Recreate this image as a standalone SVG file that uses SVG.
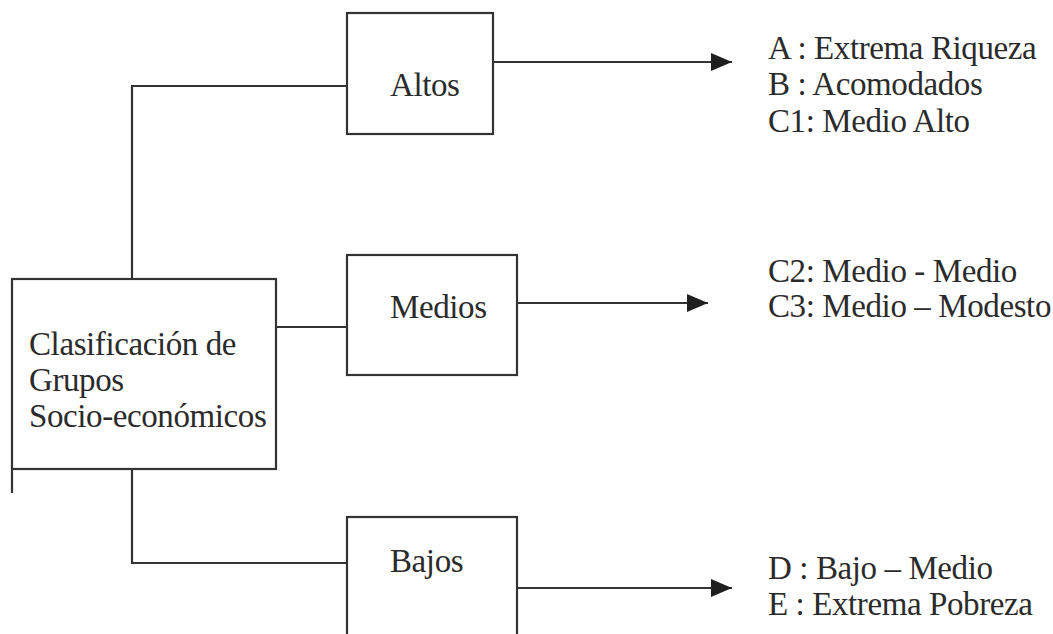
<svg xmlns="http://www.w3.org/2000/svg" width="1053" height="634" viewBox="0 0 1053 634">
  <style>
    .box { fill: #ffffff; stroke: #333333; stroke-width: 2.2; }
    .wire { fill: none; stroke: #333333; stroke-width: 2.2; }
    .lbl { font-family: "Liberation Serif", "Times New Roman", serif; font-size: 33px; letter-spacing: -0.4px; fill: #2b2b2b; }
  </style>
  <defs>
    <marker id="arrow" markerUnits="userSpaceOnUse" markerWidth="24" markerHeight="20" refX="21" refY="9" orient="auto">
      <path d="M0,0 L21,9 L0,18 z" fill="#1f1f1f"/>
    </marker>
  </defs>
  <rect width="1053" height="634" fill="#ffffff"/>

  <!-- connectors -->
  <g id="connectors">
    <path class="wire" d="M132,279 V86 H347"/>
    <path class="wire" d="M276,327 H347"/>
    <path class="wire" d="M132,469 V563 H347"/>
    <path class="wire" d="M12,469 V493"/>
    <path class="wire" d="M493,62 H732" marker-end="url(#arrow)"/>
    <path class="wire" d="M517,303 H708" marker-end="url(#arrow)"/>
    <path class="wire" d="M517,588 H732" marker-end="url(#arrow)"/>
  </g>

  <!-- root node -->
  <g id="clasificacion">
    <rect class="box" x="12" y="279" width="264" height="190"/>
    <text class="lbl" x="29" y="355">Clasificación de</text>
    <text class="lbl" x="29" y="391">Grupos</text>
    <text class="lbl" x="29" y="427">Socio-económicos</text>
  </g>

  <g id="altos">
    <rect class="box" x="347" y="13" width="146" height="121"/>
    <text class="lbl" x="390" y="96">Altos</text>
  </g>

  <g id="medios">
    <rect class="box" x="347" y="255" width="170" height="120"/>
    <text class="lbl" x="390" y="318">Medios</text>
  </g>

  <g id="bajos">
    <rect class="box" x="347" y="517" width="170" height="130"/>
    <text class="lbl" x="390" y="572">Bajos</text>
  </g>

  <!-- category lists -->
  <g id="lista-altos">
    <text class="lbl" x="768" y="59">A : Extrema Riqueza</text>
    <text class="lbl" x="768" y="95">B : Acomodados</text>
    <text class="lbl" x="768" y="132">C1: Medio Alto</text>
  </g>
  <g id="lista-medios">
    <text class="lbl" x="768" y="282">C2: Medio - Medio</text>
    <text class="lbl" x="768" y="317">C3: Medio – Modesto</text>
  </g>
  <g id="lista-bajos">
    <text class="lbl" x="768" y="579">D : Bajo – Medio</text>
    <text class="lbl" x="768" y="615">E : Extrema Pobreza</text>
  </g>
</svg>
